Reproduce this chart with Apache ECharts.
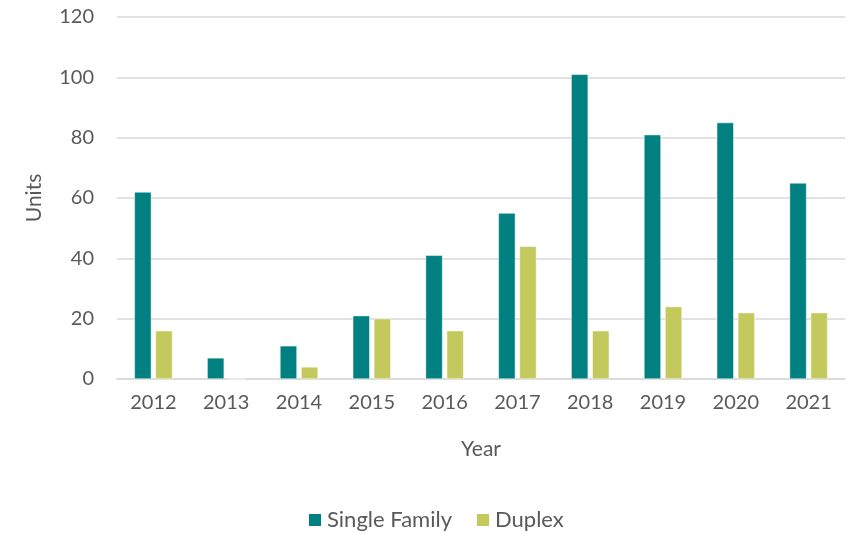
<!DOCTYPE html>
<html>
<head>
<meta charset="utf-8">
<script src="https://cdn.jsdelivr.net/npm/echarts@6/dist/echarts.min.js"></script>
<style>
  html, body { margin: 0; padding: 0; background: #fff; }
  #chart { width: 851px; height: 534px; }
</style>
</head>
<body>
<div id="chart"></div>
<script>
const years = ["2012", "2013", "2014", "2015", "2016", "2017", "2018", "2019", "2020", "2021"];
const singleFamily = [62, 7, 11, 21, 41, 55, 101, 81, 85, 65];
const duplex = [16, 0, 4, 20, 16, 44, 16, 24, 22, 22];

const textColor = "#595959";
const font = "Lato, 'Open Sans', sans-serif";

const chart = echarts.init(document.getElementById("chart"), null, { renderer: "canvas" });
chart.setOption({
  animation: false,
  backgroundColor: "#fff",
  color: ["#008080", "#c4c95e"],
  textStyle: { fontFamily: font, color: textColor },
  grid: { left: 117, right: 6, top: 17, bottom: 155, containLabel: false },
  legend: {
    top: 504,
    left: 302,
    itemWidth: 14,
    itemHeight: 14,
    itemGap: 23,
    icon: "rect",
    textStyle: { fontSize: 22, color: textColor, fontFamily: font },
    data: ["Single Family", "Duplex"],
  },
  xAxis: {
    type: "category",
    data: years,
    name: "Year",
    nameLocation: "middle",
    nameGap: 60,
    nameTextStyle: { fontSize: 21, color: textColor },
    axisLine: { lineStyle: { color: "#d9d9d9", width: 1.5 } },
    axisTick: { show: false },
    axisLabel: { fontSize: 20, color: textColor, margin: 14 },
  },
  yAxis: {
    type: "value",
    min: 0,
    max: 120,
    interval: 20,
    name: "Units",
    nameLocation: "middle",
    nameGap: 72,
    nameTextStyle: { fontSize: 21, color: textColor },
    axisLine: { show: false },
    axisTick: { show: false },
    axisLabel: { fontSize: 20, color: textColor, margin: 23 },
    splitLine: { lineStyle: { color: "#d9d9d9", width: 1.5 } },
  },
  series: [
    {
      name: "Single Family",
      type: "bar",
      data: singleFamily,
      barWidth: 17,
      barGap: "24%",
      itemStyle: { borderColor: "#fff", borderWidth: 0.5 },
    },
    {
      name: "Duplex",
      type: "bar",
      data: duplex,
      barWidth: 17,
      itemStyle: { borderColor: "#fff", borderWidth: 0.5 },
    },
  ],
});
</script>
</body>
</html>
